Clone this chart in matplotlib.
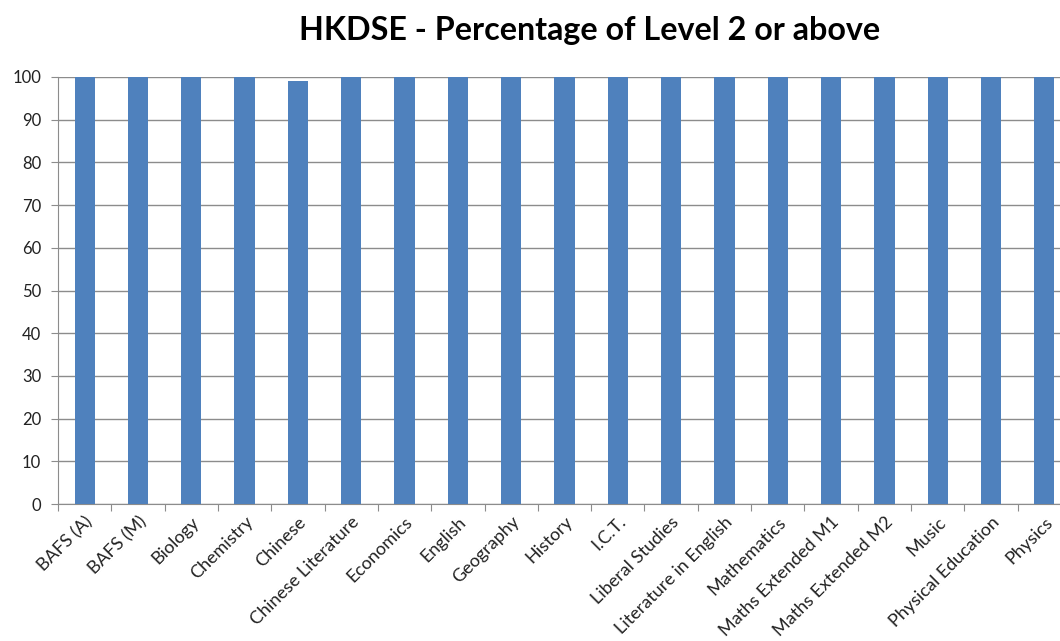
import numpy as np
import matplotlib.pyplot as plt

# HKDSE subjects and share of candidates at Level 2 or above (%)
subjects = ["BAFS (A)", "BAFS (M)", "Biology", "Chemistry", "Chinese",
            "Chinese Literature", "Economics", "English", "Geography", "History",
            "I.C.T.", "Liberal Studies", "Literature in English", "Mathematics",
            "Maths Extended M1", "Maths Extended M2", "Music",
            "Physical Education", "Physics"]
pct_level2 = [100, 100, 100, 100, 99.1, 100, 100, 100, 100, 100,
              100, 100, 100, 100, 100, 100, 100, 100, 100]

plt.rcParams['font.family'] = ['Lato', 'DejaVu Sans']

fig = plt.figure(figsize=(10.6, 6.41), dpi=100)
ax = fig.add_axes([0.0547, 0.2137, 0.9557, 0.6662])

x = np.arange(len(subjects))
ax.bar(x, pct_level2, width=0.38, color="#4F81BD", zorder=3)

ax.set_xlim(-0.5, len(subjects) - 0.5)
ax.set_ylim(0, 100)
ax.set_yticks(range(0, 101, 10))
ax.yaxis.grid(True, color="#8c8c8c", linewidth=1, zorder=0)

# category boundary ticks, labels centred under each bar
ax.set_xticks(np.arange(len(subjects) + 1) - 0.5)
ax.set_xticklabels([])
ax.set_xticks(x, minor=True)
ax.set_xticklabels(subjects, minor=True, rotation=45, ha="right",
                   rotation_mode="anchor", fontsize=13, color="#222222")
ax.tick_params(axis="x", which="minor", length=0, pad=7)
ax.tick_params(axis="x", which="major", length=5, color="#8c8c8c")
ax.tick_params(axis="y", length=5, color="#8c8c8c", labelsize=12,
               labelcolor="#222222", pad=7)

for side in ["top", "right"]:
    ax.spines[side].set_visible(False)
for side in ["left", "bottom"]:
    ax.spines[side].set_color("#8c8c8c")

fig.text(0.556, 0.9376, "HKDSE - Percentage of Level 2 or above",
         ha="center", va="baseline", fontsize=23.2, fontweight="bold")

fig.savefig("out.png", dpi=100)
